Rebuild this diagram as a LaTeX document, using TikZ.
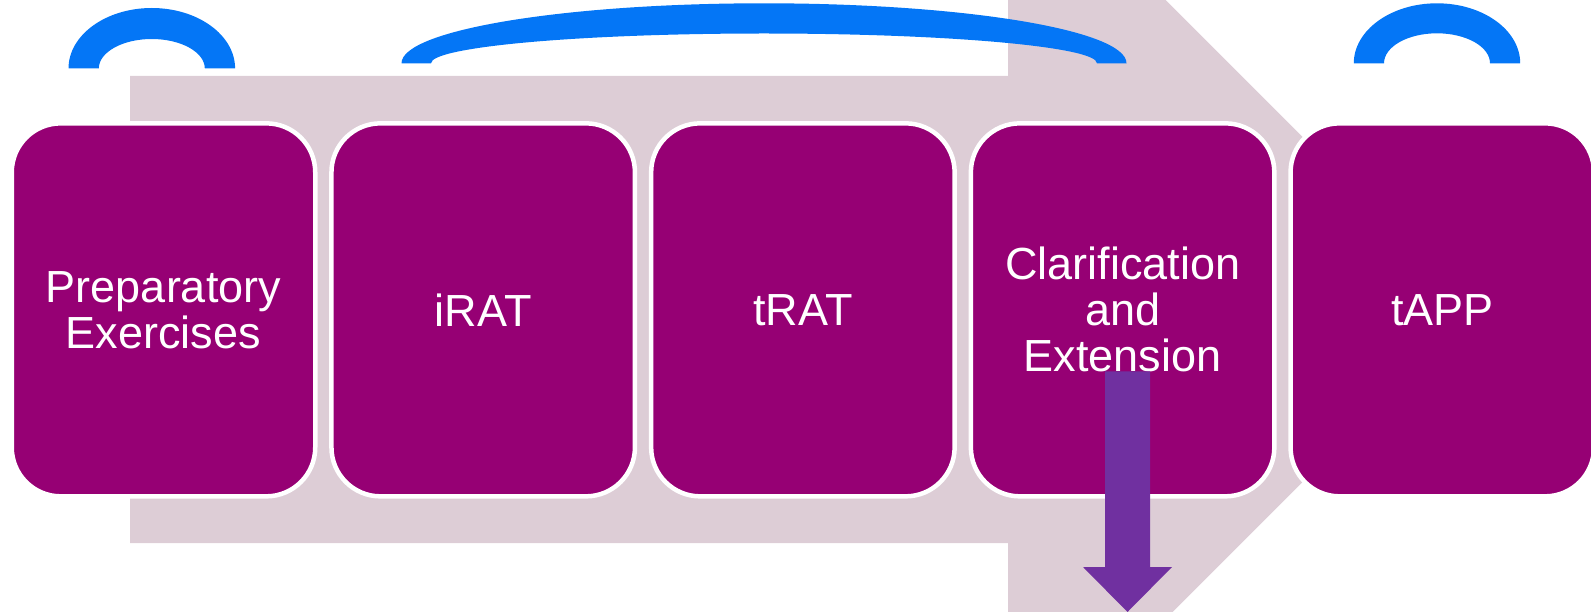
\documentclass[tikz,border=0pt]{standalone}
\usepackage{fontspec}
\setmainfont{Liberation Sans}
\definecolor{boxpurple}{RGB}{150,0,116}
\definecolor{bandpink}{RGB}{221,205,214}
\definecolor{arcblue}{RGB}{4,118,246}
\definecolor{downpurple}{RGB}{112,48,160}
\tikzset{
  stagebox/.style={draw=white, line width=4.5pt, fill=boxpurple, rounded corners=49pt,
    minimum width=303.5pt, minimum height=373pt, inner sep=0pt, align=center,
    text=white, font=\fontsize{45}{46}\selectfont},
  bandshape/.style={fill=bandpink},
  arcshape/.style={fill=arcblue},
  downarrow/.style={fill=downpurple}
}
\begin{document}
\begin{tikzpicture}[x=1pt,y=-1pt]
\useasboundingbox (0,0) rectangle (1591,612);
\clip (0,0) rectangle (1591,612);
% big background arrow
\fill[bandshape] (130,76) -- (1008,76) -- (1008,-157.5) -- (1475,309.5)
  -- (1008,776.5) -- (1008,543) -- (130,543) -- cycle;
% blue block arcs
\fill[arcshape] (68.5,68.5) arc[start angle=180, end angle=0, x radius=83.3pt, y radius=60.5pt]
  -- (204.8,68.5) arc[start angle=0, end angle=180, x radius=53pt, y radius=29.5pt] -- cycle;
\fill[arcshape] (401.5,63.3) arc[start angle=180, end angle=0, x radius=362.5pt, y radius=60pt]
  -- (1097,63.3) arc[start angle=0, end angle=180, x radius=333pt, y radius=29.8pt] -- cycle;
\fill[arcshape] (1353.8,63.3) arc[start angle=180, end angle=0, x radius=83.2pt, y radius=60pt]
  -- (1490,63.3) arc[start angle=0, end angle=180, x radius=53pt, y radius=30pt] -- cycle;
% stage boxes
\node[stagebox] (b1) at (163.5,309.85) {Preparatory\\Exercises};
\node[stagebox] (b2) at (483.2,309.85) {iRAT};
\node[stagebox] (b3) at (802.9,309.85) {tRAT};
\node[stagebox] (b4) at (1122.6,309.85) {Clarification\\and\\Extension};
\node[stagebox] (b5) at (1442.3,309.85) {tAPP};
% downward block arrow
\coordinate (dtop) at (1127.5,371.5);
\coordinate (dtip) at (1127.5,612);
\fill[downarrow] ([xshift=-22.5pt]dtop) -- ([xshift=22.5pt]dtop) -- (1150,567) -- (1172,567)
  -- (dtip) -- (1083,567) -- (1105,567) -- cycle;
\end{tikzpicture}
\end{document}
